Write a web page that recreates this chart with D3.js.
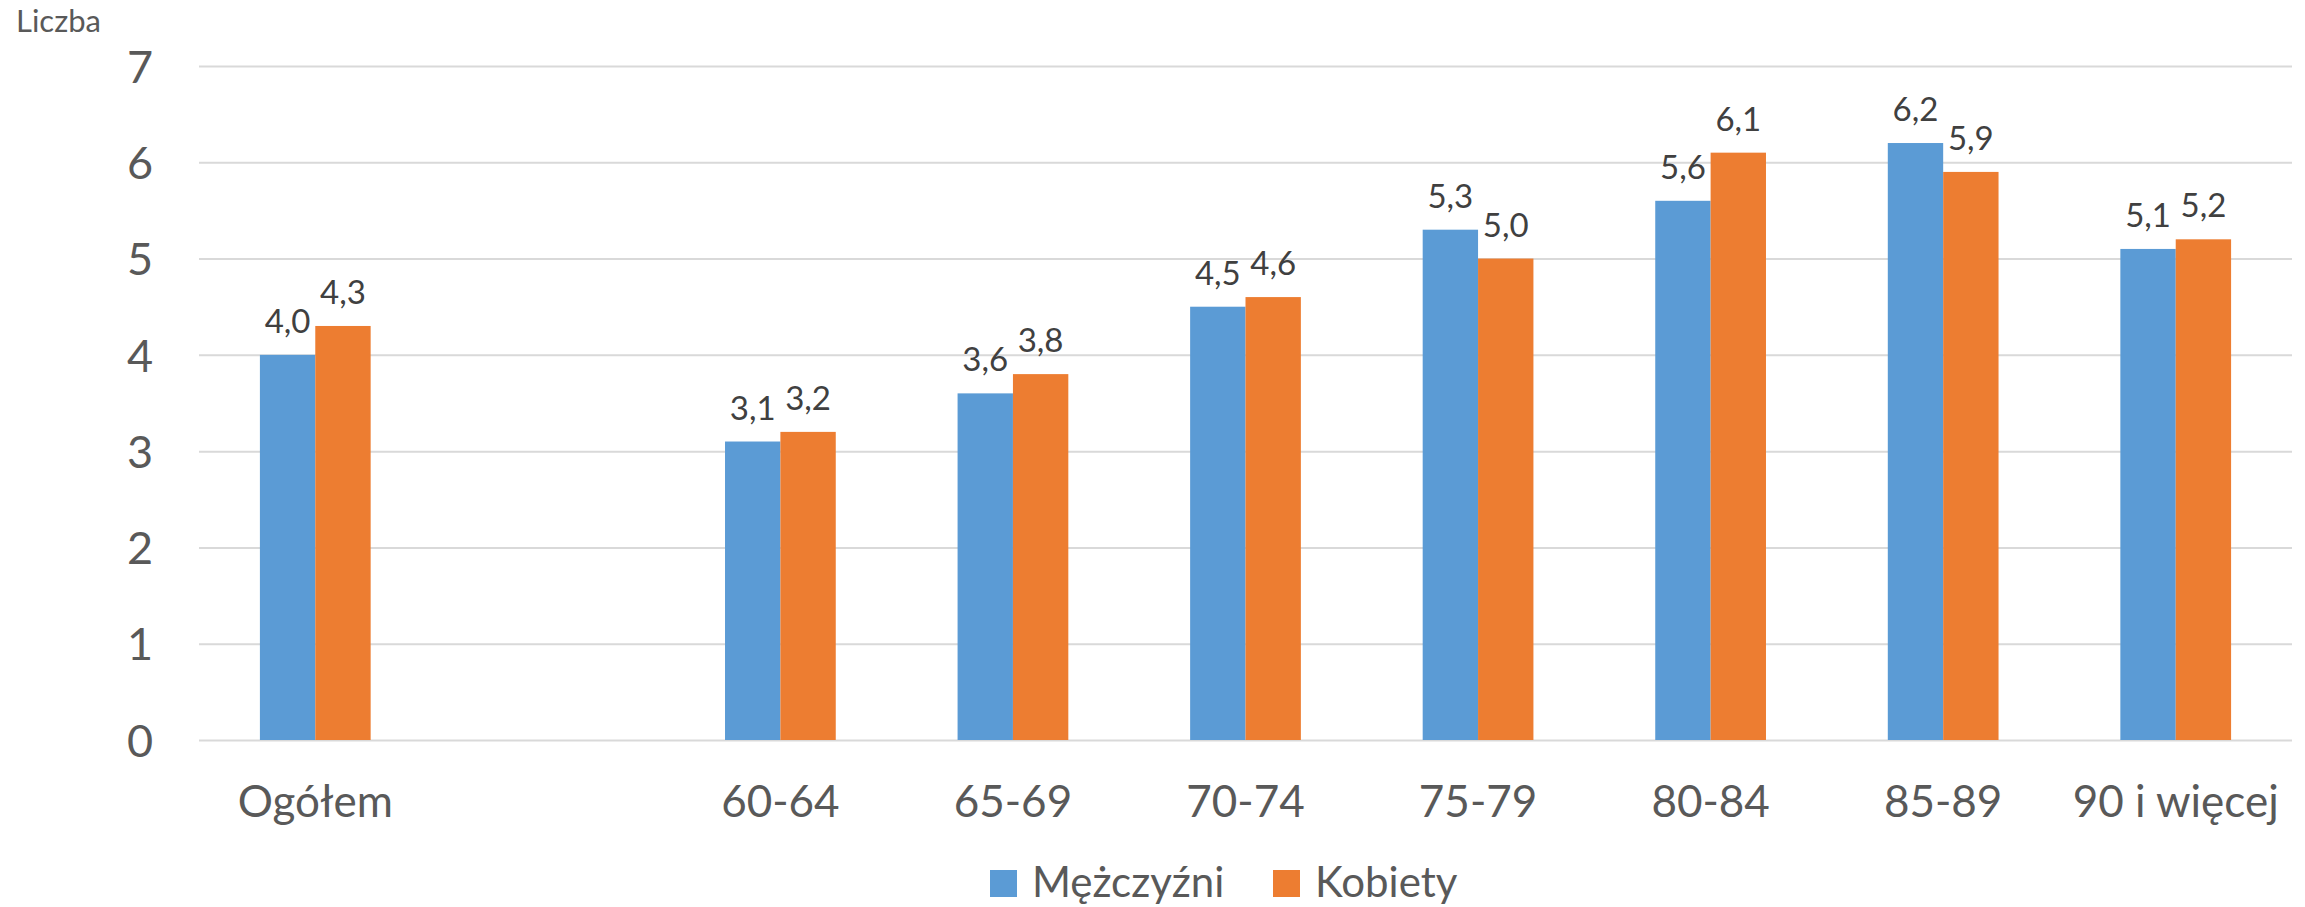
<!DOCTYPE html>
<html>
<head>
<meta charset="utf-8">
<script src="https://cdn.jsdelivr.net/npm/d3@7"></script>
<style>
  html, body { margin: 0; padding: 0; background: #fff; }
  svg { display: block; }
  svg text { font-family: "Lato", "Open Sans", sans-serif; }
</style>
</head>
<body>
<svg id="chart" width="2305" height="907"></svg>
<script>
// Age groups (the empty entry leaves a gap after the total)
const categories = ["Ogółem", "", "60-64", "65-69", "70-74", "75-79", "80-84", "85-89", "90 i więcej"];
const seriesNames = ["Mężczyźni", "Kobiety"];
const men   = [4.0, null, 3.1, 3.6, 4.5, 5.3, 5.6, 6.2, 5.1];
const women = [4.3, null, 3.2, 3.8, 4.6, 5.0, 6.1, 5.9, 5.2];
const yTicks = [0, 1, 2, 3, 4, 5, 6, 7];
const colors = ["#5B9BD5", "#ED7D31"];

const FONT = "Lato, 'Open Sans', sans-serif";
const svg = d3.select("#chart");
const margin = { left: 199, right: 13, top: 66, bottom: 167 };
const W = 2305, H = 907;
const plotW = W - margin.left - margin.right;
const plotH = H - margin.top - margin.bottom;

const g = svg.append("g").attr("transform", `translate(${margin.left},${margin.top})`);

const x = d3.scaleBand().domain(categories).range([0, plotW]).paddingInner(0).paddingOuter(0);
const x1 = d3.scaleBand().domain(seriesNames).range([0, x.bandwidth()]).paddingInner(0).paddingOuter(1.1);
const y = d3.scaleLinear().domain([0, 7]).range([plotH, 0]);

// Value axis with gridlines
const yAxis = g.append("g")
  .call(d3.axisLeft(y).tickValues(yTicks).tickSize(-plotW).tickPadding(46).tickFormat(d3.format("d")))
  .attr("font-family", FONT);
yAxis.select(".domain").remove();
yAxis.selectAll(".tick line").attr("stroke", "#D9D9D9").attr("stroke-width", 2);
yAxis.selectAll(".tick text").attr("fill", "#595959").attr("font-size", 45).attr("dy", "0.36em");

// Category axis
const xAxis = g.append("g").attr("transform", `translate(0,${plotH})`)
  .call(d3.axisBottom(x).tickSize(0).tickPadding(46))
  .attr("font-family", FONT);
xAxis.select(".domain").remove();
xAxis.selectAll(".tick text").attr("fill", "#595959").attr("font-size", 44);

// Bars
const rows = categories.map((c, i) => ({ cat: c, vals: [men[i], women[i]] }));
const groups = g.selectAll(".grp").data(rows).join("g")
  .attr("transform", d => `translate(${x(d.cat)},0)`);

groups.selectAll("rect")
  .data(d => d.vals.map((v, k) => ({ v, k })).filter(e => e.v != null))
  .join("rect")
  .attr("x", e => x1(seriesNames[e.k]))
  .attr("width", x1.bandwidth())
  .attr("y", e => y(e.v))
  .attr("height", e => y(0) - y(e.v))
  .attr("fill", e => colors[e.k]);

// Value labels
groups.selectAll("text.val")
  .data(d => d.vals.map((v, k) => ({ v, k })).filter(e => e.v != null))
  .join("text")
  .attr("class", "val")
  .attr("x", e => x1(seriesNames[e.k]) + x1.bandwidth() / 2)
  .attr("y", e => y(e.v) - 22)
  .attr("text-anchor", "middle")
  .attr("font-size", 33)
  .attr("fill", "#404040")
  .text(e => e.v.toFixed(1).replace(".", ","));

// Axis title
svg.append("text")
  .attr("x", 16).attr("y", 32)
  .attr("font-size", 31)
  .attr("fill", "#595959")
  .text("Liczba");

// Legend: fixed slots, square then label
const legend = svg.append("g").attr("transform", "translate(990,870)");
const legendSlots = [0, 283];
seriesNames.forEach((name, k) => {
  const item = legend.append("g").attr("transform", `translate(${legendSlots[k]},0)`);
  item.append("rect").attr("width", 27).attr("height", 27).attr("fill", colors[k]);
  item.append("text").attr("x", 42).attr("y", 27)
    .attr("font-size", 42).attr("fill", "#595959").text(name);
});
</script>
</body>
</html>
